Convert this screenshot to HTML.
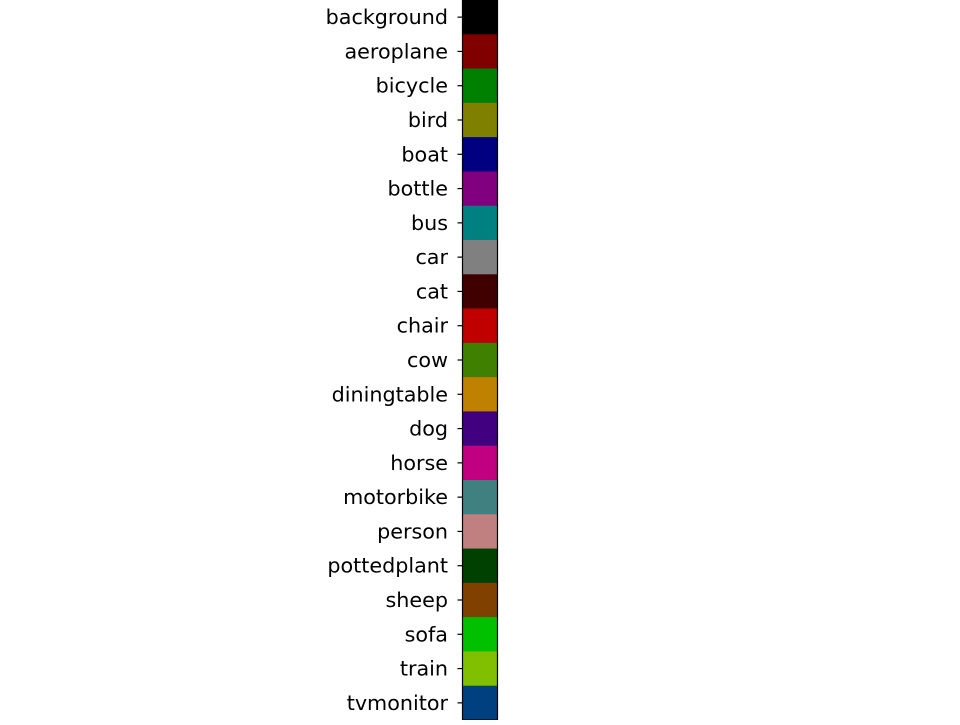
<!DOCTYPE html>
<html><head><meta charset="utf-8"><style>
html,body{margin:0;padding:0;background:#fff;}
svg text{font-family:"DejaVu Sans","Liberation Sans",sans-serif;font-size:20.7px;fill:#000;}
</style></head><body>
<svg id="chart" width="960" height="720" xmlns="http://www.w3.org/2000/svg"></svg>
<script>
const categories=["background","aeroplane","bicycle","bird","boat","bottle","bus","car","cat","chair","cow","diningtable","dog","horse","motorbike","person","pottedplant","sheep","sofa","train","tvmonitor"];
const colorR=[0,128,0,128,0,128,0,128,64,192,64,192,64,192,64,192,0,128,0,128,0];
const colorG=[0,0,128,128,0,0,128,128,0,0,128,128,0,0,128,128,64,64,192,192,64];
const colorB=[0,0,0,0,128,128,128,128,0,0,0,0,128,128,128,128,0,0,0,0,128];
const svg=document.getElementById('chart');
const NS='http://www.w3.org/2000/svg';
const x0=462.5,x1=497.5,y0=0,y1=720;
const rowH=(y1-y0)/categories.length;
function yPos(i){return y0+i*rowH;}
categories.forEach((c,i)=>{
  const r=document.createElementNS(NS,'rect');
  r.setAttribute('x',x0);r.setAttribute('y',yPos(i));
  r.setAttribute('width',x1-x0);r.setAttribute('height',rowH+0.5);
  r.setAttribute('fill',`rgb(${colorR[i]},${colorG[i]},${colorB[i]})`);
  
  
  svg.appendChild(r);
  const yc=yPos(i)+rowH/2;
  const t=document.createElementNS(NS,'line');
  t.setAttribute('x1',x0-5);t.setAttribute('x2',x0);t.setAttribute('y1',yc);t.setAttribute('y2',yc);
  t.setAttribute('stroke','#000');t.setAttribute('stroke-width','1.2');
  
  
  svg.appendChild(t);
  const tx=document.createElementNS(NS,'text');
  tx.setAttribute('x',448);tx.setAttribute('y',yc+7);tx.setAttribute('text-anchor','end');
  tx.textContent=c;
  
  
  svg.appendChild(tx);
});
const f=document.createElementNS(NS,'rect');
f.setAttribute('x',x0);f.setAttribute('y',y0);f.setAttribute('width',x1-x0);f.setAttribute('height',y1-y0);
f.setAttribute('fill','none');f.setAttribute('stroke','#000');f.setAttribute('stroke-width','1.2');


svg.appendChild(f);
</script>
</body></html>
